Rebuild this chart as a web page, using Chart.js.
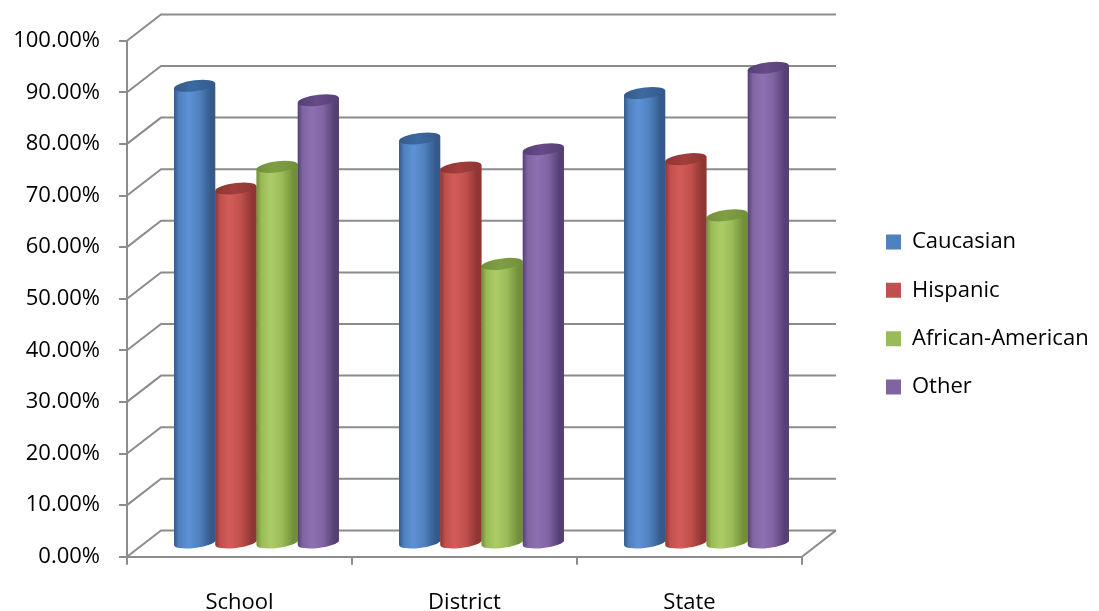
<!DOCTYPE html>
<html>
<head>
<meta charset="utf-8">
<title>Graduation rate by group</title>
<script src="https://cdn.jsdelivr.net/npm/chart.js@4.4.0/dist/chart.umd.min.js"></script>
<style>
  html, body { margin: 0; padding: 0; background: #fff; }
  canvas { display: block; }
</style>
</head>
<body>
<canvas id="groupChart" width="1099" height="611"></canvas>
<script>
const categories = ['School', 'District', 'State'];
const seriesNames = ['Caucasian', 'Hispanic', 'African-American', 'Other'];
const caucasian = [88.7, 78.5, 87.3];
const hispanic = [68.8, 72.9, 74.5];
const africanAmerican = [73.0, 54.2, 63.6];
const other = [85.9, 76.4, 92.2];
const yMin = 0, yMax = 100, yStep = 10;

// cylinder shading per series: edge, body, highlight, cap
const shades = [
  { edge: '#34598a', body: '#4f81bd', light: '#5c92d6', cap: '#3c6aa0' },
  { edge: '#8f3533', body: '#c0504d', light: '#d35c59', cap: '#a13f3c' },
  { edge: '#718f38', body: '#9bbb59', light: '#abcc67', cap: '#7f9f45' },
  { edge: '#553f75', body: '#8064a2', light: '#8d70b2', cap: '#654b87' }
];

const AXIS_GREY = '#8c8c8c';
const DEPTH_X = 34, DEPTH_Y = 26.3;   // back wall offset
const SHEAR = -0.115;                 // tilt of the cylinder ends
const CAP_R = 5.5;                    // half-height of the end ellipses
const LEGEND_X = 886, LEGEND_MID = 314.5;

// back wall, left wall and floor edge
const wallPlugin = {
  id: 'wall',
  beforeDatasetsDraw(chart) {
    const { ctx, chartArea: a, scales: { y } } = chart;
    ctx.save();
    ctx.strokeStyle = AXIS_GREY;
    ctx.lineWidth = 2;
    ctx.beginPath();
    y.ticks.forEach(t => {
      const py = y.getPixelForValue(t.value);
      ctx.moveTo(a.left, py);
      ctx.lineTo(a.left + DEPTH_X, py - DEPTH_Y);
      ctx.lineTo(a.right + DEPTH_X, py - DEPTH_Y);
    });
    ctx.moveTo(a.right, a.bottom);
    ctx.lineTo(a.right + DEPTH_X, a.bottom - DEPTH_Y);
    ctx.stroke();
    ctx.restore();
  }
};

// runs fn in a frame centred on the bar, sheared so the ends tilt
function withShear(ctx, el, fn) {
  const { x, y, base, width } = el.getProps(['x', 'y', 'base', 'width'], true);
  const m = ctx.getTransform();
  ctx.translate(x, 0);
  ctx.transform(1, SHEAR, 0, 1, 0, 0);
  fn(width / 2, y, base);
  ctx.setTransform(m);
}

function bodyPath(ctx, r, top, base) {
  ctx.moveTo(-r, top);
  ctx.lineTo(-r, base);
  ctx.ellipse(0, base, r, CAP_R, 0, Math.PI, 0, true);
  ctx.lineTo(r, top);
  ctx.closePath();
}

// bars are drawn half way into the depth, as cylinders
const cylinderPlugin = {
  id: 'cylinders',
  beforeDatasetsDraw(chart) {
    const { ctx } = chart;
    ctx.save();
    ctx.translate(DEPTH_X / 2, -DEPTH_Y / 2);
    ctx.beginPath();
    chart.data.datasets.forEach((ds, i) => {
      chart.getDatasetMeta(i).data.forEach(el => {
        withShear(ctx, el, (r, top, base) => bodyPath(ctx, r, top, base));
      });
    });
    ctx.clip();
  },
  afterDatasetsDraw(chart) {
    const { ctx } = chart;
    ctx.restore();
    ctx.save();
    ctx.translate(DEPTH_X / 2, -DEPTH_Y / 2);
    chart.data.datasets.forEach((ds, i) => {
      const s = shades[i];
      chart.getDatasetMeta(i).data.forEach(el => {
        withShear(ctx, el, (r, top, base) => {
          const g = ctx.createLinearGradient(-r, 0, r, 0);
          g.addColorStop(0, s.edge);
          g.addColorStop(0.12, s.body);
          g.addColorStop(0.35, s.light);
          g.addColorStop(0.62, s.body);
          g.addColorStop(0.9, s.edge);
          g.addColorStop(1, s.edge);
          ctx.fillStyle = g;
          ctx.beginPath();
          bodyPath(ctx, r, top, base);
          ctx.fill();

          const c = ctx.createLinearGradient(-r, 0, r, 0);
          c.addColorStop(0, s.edge);
          c.addColorStop(0.45, s.cap);
          c.addColorStop(1, s.edge);
          ctx.fillStyle = c;
          ctx.beginPath();
          ctx.ellipse(0, top, r, CAP_R, 0, 0, Math.PI * 2);
          ctx.fill();
        });
      });
    });
    ctx.restore();
  }
};

// legend sits further right than the layout puts it
const legendPlugin = {
  id: 'legendPlace',
  afterLayout(chart) {
    const lg = chart.legend;
    const dx = LEGEND_X - lg.options.labels.padding - lg.left;
    const dy = LEGEND_MID - (lg.top + lg.bottom) / 2;
    lg.left += dx;
    lg.right = chart.width;
    lg.width = lg.right - lg.left;
    lg.top += dy; lg.bottom += dy;
  }
};

Chart.defaults.font.family = "'Open Sans', sans-serif";
Chart.defaults.font.size = 22;
Chart.defaults.color = '#000';

const seriesValues = [caucasian, hispanic, africanAmerican, other];

new Chart(document.getElementById('groupChart'), {
  type: 'bar',
  data: {
    labels: categories,
    datasets: seriesNames.map((name, i) => ({
      label: name,
      data: seriesValues[i],
      backgroundColor: shades[i].body,
      borderWidth: 0,
      categoryPercentage: 0.733,
      barPercentage: 1.0
    }))
  },
  options: {
    responsive: false,
    animation: false,
    events: [],
    layout: { padding: { top: 40.7, left: 0, bottom: 0, right: 97 } },
    plugins: {
      tooltip: { enabled: false },
      legend: {
        position: 'right',
        maxWidth: 200,
        labels: { boxWidth: 15, boxHeight: 15, padding: 26.3, color: '#000' }
      }
    },
    scales: {
      x: {
        grid: { drawOnChartArea: false, tickLength: 8, color: AXIS_GREY, lineWidth: 2 },
        border: { color: AXIS_GREY, width: 2 },
        ticks: { padding: 25 },
        afterFit(scale) { scale.height = 54.3; }
      },
      y: {
        min: yMin,
        max: yMax,
        grid: { drawOnChartArea: false, tickLength: 8, color: AXIS_GREY, lineWidth: 2 },
        border: { color: AXIS_GREY, width: 2 },
        ticks: {
          stepSize: yStep,
          padding: 19,
          callback: v => v.toFixed(2) + '%'
        },
        afterFit(scale) { scale.width = 127; }
      }
    }
  },
  plugins: [wallPlugin, cylinderPlugin, legendPlugin]
});
</script>
</body>
</html>
